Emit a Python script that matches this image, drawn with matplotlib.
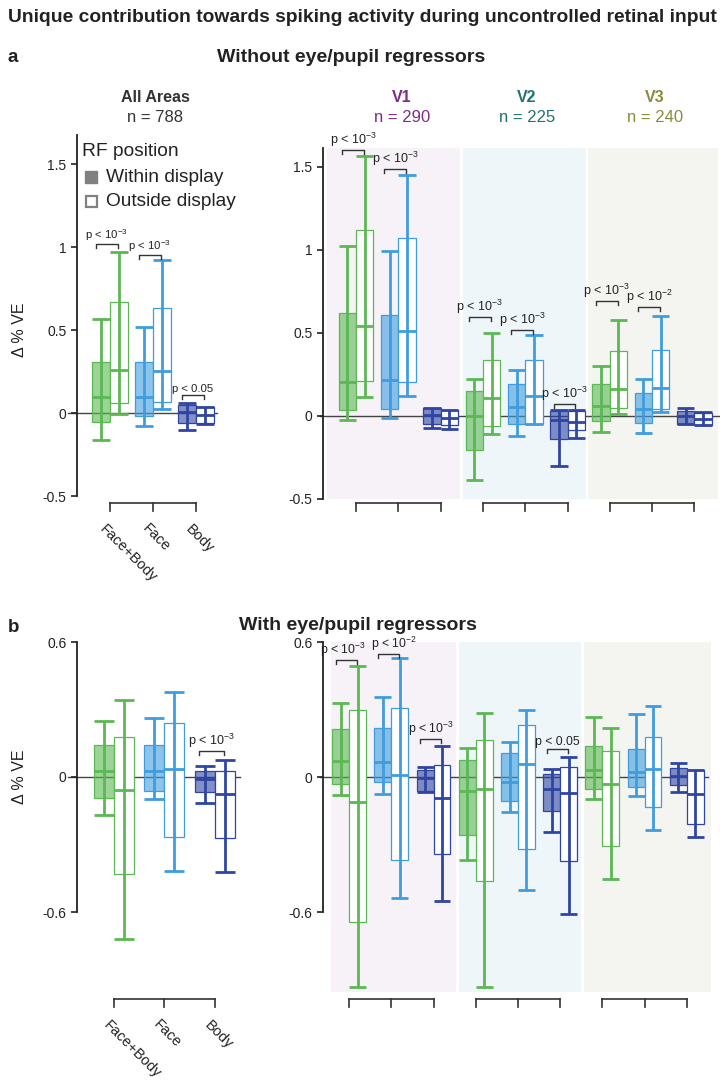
import matplotlib
matplotlib.use("Agg")
import matplotlib.pyplot as plt
from matplotlib.colors import to_rgba
from matplotlib.patches import Rectangle
from matplotlib.transforms import blended_transform_factory

plt.rcParams['font.family'] = ['Liberation Sans', 'DejaVu Sans']
plt.rcParams['mathtext.fontset'] = 'custom'
plt.rcParams['mathtext.rm'] = 'Liberation Sans'
plt.rcParams['mathtext.it'] = 'Liberation Sans:italic'
plt.rcParams['mathtext.bf'] = 'Liberation Sans:bold'

# ---- data: (whisker low, q1, median, q3, whisker high) per category ----
categories = ['Face+Body', 'Face', 'Body']
areas = ['V1', 'V2', 'V3']
area_n = [290, 225, 240]
all_n = 788

# panel a, without eye/pupil regressors
a_all_in = [(-0.161, -0.052, 0.096, 0.307, 0.566),
            (-0.076, -0.016, 0.096, 0.307, 0.518),
            (-0.100, -0.060, 0.005, 0.050, 0.058)]
a_all_out = [(-0.004, 0.058, 0.259, 0.667, 0.972),
             (0.024, 0.064, 0.253, 0.635, 0.920),
             (-0.068, -0.060, -0.014, 0.036, 0.038)]
a_area_in = [
    [(-0.022, 0.038, 0.205, 0.620, 1.022),
     (-0.012, 0.044, 0.219, 0.606, 0.992),
     (-0.070, -0.046, 0.004, 0.046, 0.050)],
    [(-0.388, -0.207, 0.000, 0.149, 0.225),
     (-0.118, -0.050, 0.054, 0.191, 0.275),
     (-0.303, -0.137, -0.026, 0.028, 0.038)],
    [(-0.098, -0.030, 0.058, 0.195, 0.299),
     (-0.102, -0.042, 0.042, 0.139, 0.223),
     (-0.046, -0.046, 0.000, 0.030, 0.050)],
]
a_area_out = [
    [(0.114, 0.211, 0.540, 1.122, 1.564),
     (0.118, 0.203, 0.510, 1.074, 1.454),
     (-0.078, -0.054, -0.010, 0.034, 0.038)],
    [(-0.106, -0.062, 0.110, 0.335, 0.500),
     (-0.048, -0.048, 0.122, 0.339, 0.488),
     (-0.130, -0.086, -0.036, 0.028, 0.038)],
    [(0.010, 0.050, 0.163, 0.392, 0.576),
     (0.022, 0.042, 0.171, 0.400, 0.604),
     (-0.056, -0.056, -0.018, 0.018, 0.022)],
]

# panel b, with eye/pupil regressors
b_all_in = [(-0.167, -0.093, 0.027, 0.143, 0.247),
            (-0.098, -0.062, 0.028, 0.143, 0.263),
            (-0.114, -0.068, -0.010, 0.028, 0.049)]
b_all_out = [(-0.720, -0.433, -0.056, 0.179, 0.343),
             (-0.417, -0.265, 0.035, 0.239, 0.377),
             (-0.420, -0.269, -0.075, 0.025, 0.074)]
b_area_in = [
    [(-0.079, -0.033, 0.073, 0.212, 0.327),
     (-0.076, -0.024, 0.067, 0.216, 0.357),
     (-0.065, -0.064, -0.003, 0.033, 0.044)],
    [(-0.369, -0.258, -0.061, 0.074, 0.130),
     (-0.156, -0.105, -0.021, 0.108, 0.156),
     (-0.246, -0.153, -0.055, 0.012, 0.034)],
    [(-0.096, -0.053, 0.031, 0.138, 0.265),
     (-0.084, -0.044, 0.024, 0.126, 0.280),
     (-0.065, -0.037, 0.006, 0.039, 0.061)],
]
b_area_out = [
    [(-0.932, -0.644, -0.111, 0.296, 0.493),
     (-0.536, -0.369, 0.010, 0.305, 0.527),
     (-0.550, -0.342, -0.095, 0.052, 0.138)],
    [(-0.935, -0.461, -0.052, 0.164, 0.283),
     (-0.502, -0.321, 0.058, 0.230, 0.296),
     (-0.609, -0.372, -0.070, 0.043, 0.090)],
    [(-0.453, -0.307, -0.031, 0.114, 0.216),
     (-0.236, -0.135, 0.034, 0.179, 0.316),
     (-0.267, -0.210, -0.076, 0.030, 0.030)],
]

# significance marks: (area index, category index, bracket height, label)
a_all_sig = [(0, 0, 1.016, r'p < 10$^{-3}$'), (0, 1, 0.952, r'p < 10$^{-3}$'),
             (0, 2, 0.110, 'p < 0.05')]
a_area_sig = [(0, 0, 1.604, r'p < 10$^{-3}$'), (0, 1, 1.490, r'p < 10$^{-3}$'),
              (1, 0, 0.596, r'p < 10$^{-3}$'), (1, 1, 0.520, r'p < 10$^{-3}$'),
              (1, 2, 0.070, r'p < 10$^{-3}$'), (2, 0, 0.693, r'p < 10$^{-3}$'),
              (2, 1, 0.657, r'p < 10$^{-2}$')]
b_all_sig = [(0, 2, 0.115, r'p < 10$^{-3}$')]
b_area_sig = [(0, 0, 0.520, r'p < 10$^{-3}$'), (0, 1, 0.545, r'p < 10$^{-2}$'),
              (0, 2, 0.167, r'p < 10$^{-3}$'), (1, 2, 0.126, 'p < 0.05')]

# ---- styling ----
cat_colors = ['#5bb853', '#3f9ddf', '#2f45a4']
area_colors = ['#7a2c86', '#1f7272', '#8a8a3c']
shade_colors = ['#f7f2f8', '#eff6fa', '#f4f5f0']
INK = '#222222'
label_nudge = {(0, 0): -3, (0, 1): 6}   # px shift of crowded p labels (panel b)

W, H = 720, 1082
fig = plt.figure(figsize=(W / 100, H / 100), dpi=100)


def add_ax(x0, y0, x1, y1, xlim, ylim):
    ax = fig.add_axes([x0 / W, 1 - y1 / H, (x1 - x0) / W, (y1 - y0) / H])
    ax.set_xlim(*xlim)
    ax.set_ylim(*ylim)
    ax.patch.set_alpha(0)
    for s in ['top', 'right', 'bottom']:
        ax.spines[s].set_visible(False)
    ax.spines['left'].set_linewidth(1.3)
    ax.spines['left'].set_color(INK)
    ax.set_xticks([])
    ax.tick_params(axis='y', direction='out', length=4.5, width=1.2,
                   labelsize=10, pad=3, colors=INK)
    return ax


def ppu(ax):
    lo, hi = ax.get_ylim()
    return ax.bbox.height / (hi - lo)


def xpu(ax):
    lo, hi = ax.get_xlim()
    return ax.bbox.width / (hi - lo)


def draw_pair(ax, pos, w, color, st_in, st_out):
    for st, x0, filled in ((st_in, pos - w, True), (st_out, pos, False)):
        lo, q1, med, q3, hi = st
        fc = to_rgba(color, 0.6) if filled else 'white'
        ax.add_patch(Rectangle((x0, q1), w, q3 - q1, facecolor=fc,
                               edgecolor=color, lw=0.9, zorder=2, clip_on=False))
        xc = x0 + w / 2
        kw = dict(color=color, lw=2.0, solid_capstyle='butt', zorder=3, clip_on=False)
        ax.plot([xc, xc], [lo, hi], **kw)
        for yv in (lo, med, hi):
            ax.plot([x0, x0 + w], [yv, yv], **kw)


def p_bracket(ax, pos, w, y, label, fs, nudge=0):
    x0, x1 = pos - 0.8 * w, pos + 0.45 * w
    d = 4 / ppu(ax)
    ax.plot([x0, x0, x1, x1], [y - d, y, y, y - d], color='#333333', lw=1.0,
            clip_on=False, zorder=4)
    ax.text((x0 + x1) / 2 + nudge / xpu(ax), y + 1 / ppu(ax), label, ha='center',
            va='bottom', fontsize=fs, color=INK, clip_on=False, zorder=4)


def cat_bracket(ax, positions, y_px, labels=None):
    tr = blended_transform_factory(ax.transData, fig.transFigure)
    yb = 1 - y_px / H
    yt = 1 - (y_px + 8) / H
    ax.plot([positions[0], positions[-1]], [yb, yb], color='#333333', lw=1.2,
            transform=tr, clip_on=False)
    for p in positions:
        ax.plot([p, p], [yb, yt], color='#333333', lw=1.2, transform=tr, clip_on=False)
    if labels:
        for p, lab in zip(positions, labels):
            ax.annotate(lab, xy=(p, yb), xycoords=tr, xytext=(-6, -17),
                        textcoords='offset points', rotation=-45,
                        rotation_mode='anchor', ha='left', va='center',
                        fontsize=10.5, color=INK)


def zero_line(ax, x0, x1):
    ax.plot([x0, x1], [0, 0], color='#444444', lw=1.0, zorder=1, clip_on=False)


def panel(ax_l, ax_r, all_in, all_out, area_in, area_out, all_sig, area_sig,
          w_l, w_r, shades, zl_l, zl_r, brk_y, fs_l, fs_r, nudges):
    # all areas
    zero_line(ax_l, *zl_l)
    for c in range(3):
        draw_pair(ax_l, c, w_l, cat_colors[c], all_in[c], all_out[c])
    for a, c, y, lab in all_sig:
        p_bracket(ax_l, c, w_l, y, lab, fs_l)
    cat_bracket(ax_l, [0, 1, 2], brk_y, categories)
    # per area
    for k, (s0, s1) in enumerate(shades):
        ax_r.axvspan(s0, s1, color=shade_colors[k], lw=0, zorder=0)
    zero_line(ax_r, *zl_r)
    for k in range(3):
        for c in range(3):
            draw_pair(ax_r, 3 * k + c, w_r, cat_colors[c], area_in[k][c], area_out[k][c])
        cat_bracket(ax_r, [3 * k, 3 * k + 1, 3 * k + 2], brk_y)
    for a, c, y, lab in area_sig:
        p_bracket(ax_r, 3 * a + c, w_r, y, lab, fs_r, nudges.get((a, c), 0))


# ---- panel a ----
ax_al = add_ax(77, 135, 222, 496, (-0.767, 2.605), (-0.5, 1.675))
ax_ar = add_ax(323, 148, 720, 499, (-0.78, 8.605), (-0.5, 1.614))
for ax in (ax_al, ax_ar):
    ax.set_yticks([-0.5, 0, 0.5, 1, 1.5])
    ax.set_yticklabels(['-0.5', '0', '0.5', '1', '1.5'])
panel(ax_al, ax_ar, a_all_in, a_all_out, a_area_in, a_area_out, a_all_sig, a_area_sig,
      0.41, 0.41, [(-0.69, 2.46), (2.53, 5.44), (5.48, 8.56)],
      (-0.977, 2.49), (-0.85, 8.6), 503, 8.2, 9, {})

# ---- panel b ----
ax_bl = add_ax(77, 642, 240, 1002, (-0.73, 2.50), (-1.0, 0.6))
ax_br = add_ax(323, 642, 712, 992, (-0.62, 8.598), (-0.955, 0.6))
for ax in (ax_bl, ax_br):
    ax.set_yticks([-0.6, 0, 0.6])
    ax.set_yticklabels(['-0.6', '0', '0.6'])
    ax.spines['left'].set_bounds(-0.6, 0.6)
panel(ax_bl, ax_br, b_all_in, b_all_out, b_area_in, b_area_out, b_all_sig, b_area_sig,
      0.40, 0.40, [(-0.43, 2.54), (2.61, 5.50), (5.57, 8.57)],
      (-0.91, 2.5), (-0.69, 8.5), 999, 9, 8.8, label_nudge)

# ---- texts ----
def ftext(x, y, s, **kw):
    fig.text(x / W, 1 - y / H, s, **kw)


ftext(8, 17, 'Unique contribution towards spiking activity during uncontrolled retinal input',
      fontsize=13.9, fontweight='bold', va='center', color=INK)
ftext(8, 57, 'a', fontsize=13.5, fontweight='bold', va='center', color=INK)
ftext(351, 57, 'Without eye/pupil regressors', fontsize=14, fontweight='bold',
      va='center', ha='center', color=INK)
ftext(8, 628, 'b', fontsize=13.5, fontweight='bold', va='center', color=INK)
ftext(358, 625, 'With eye/pupil regressors', fontsize=14, fontweight='bold',
      va='center', ha='center', color=INK)

ftext(155, 98, 'All Areas', fontsize=11.5, fontweight='bold', ha='center', va='center',
      color='#333333')
ftext(155, 117, f'n = {all_n}', fontsize=12, ha='center', va='center', color='#333333')
for k, xc in enumerate([402, 527, 655]):
    ftext(xc, 98, areas[k], fontsize=11.5, fontweight='bold', ha='center', va='center',
          color=area_colors[k])
    ftext(xc, 117, f'n = {area_n[k]}', fontsize=12, ha='center', va='center',
          color=area_colors[k])

ftext(20, 330, '\u0394 % VE', fontsize=11.5, rotation=90, ha='center', va='center', color=INK)
ftext(20, 777, '\u0394 % VE', fontsize=11.5, rotation=90, ha='center', va='center', color=INK)

# legend
ftext(82, 152, 'RF position', fontsize=13.8, va='center', color=INK)
ftext(106, 177, 'Within display', fontsize=13.8, va='center', color=INK)
ftext(106, 202, 'Outside display', fontsize=13.8, va='center', color=INK)
fig.add_artist(Rectangle((85 / W, 1 - 183 / H), 12 / W, 12 / H, transform=fig.transFigure,
                         facecolor='#808080', edgecolor='#808080', lw=1))
fig.add_artist(Rectangle((86 / W, 1 - 207 / H), 11 / W, 11 / H, transform=fig.transFigure,
                         facecolor='white', edgecolor='#808080', lw=1.6))

fig.savefig('out.png', dpi=100)
